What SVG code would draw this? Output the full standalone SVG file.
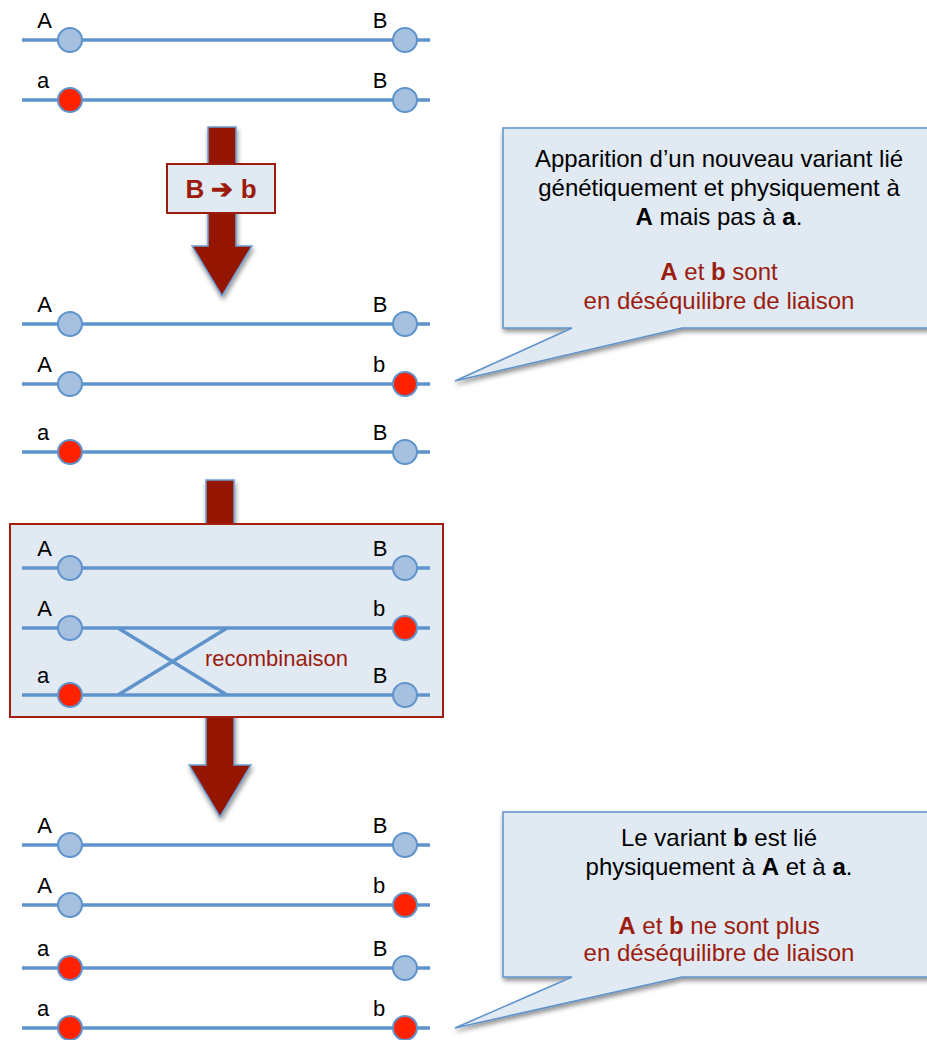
<svg xmlns="http://www.w3.org/2000/svg" width="927" height="1040" viewBox="0 0 927 1040">
  <defs>
    <style>
      .chr { stroke: #5f93cb; stroke-width: 3.5; fill: none; }
      .lb { fill: #a6c0e0; stroke: #5f93cb; stroke-width: 2; }
      .rd { fill: #ff2200; stroke: #5f93cb; stroke-width: 2; }
      .lab { font-family: "Liberation Sans", Arial, sans-serif; font-size: 22px; fill: #000; text-anchor: middle; }
      .arrow { fill: #951500; stroke: #6d9fd3; stroke-width: 1.5; }
      .call { fill: #e1e9f3; stroke: #5f93cb; stroke-width: 1.5; }
      .ct { font-family: "Liberation Sans", Arial, sans-serif; font-size: 24px; fill: #000; text-anchor: middle; }
      .red { fill: #9b1c0e; }
      .b { font-weight: bold; }
      .mut { font-size: 26px; }
      .rec { font-size: 22px; text-anchor: start; }
    </style>
    <filter id="shadow" x="-20%" y="-20%" width="140%" height="140%">
      <feGaussianBlur in="SourceAlpha" stdDeviation="2.5"/>
      <feOffset dx="1" dy="3" result="o"/>
      <feComponentTransfer><feFuncA type="linear" slope="0.45"/></feComponentTransfer>
      <feMerge><feMergeNode/><feMergeNode in="SourceGraphic"/></feMerge>
    </filter>
  </defs>

  <rect width="927" height="1040" fill="#fff"/>

  <!-- arrows between stages -->
  <g id="connectors">
    <path class="arrow" filter="url(#shadow)" d="M208,127 H236 V246 H252 L222,296 L192,246 H208 Z"/>
    <path class="arrow" filter="url(#shadow)" d="M206,480 H234 V765 H251 L220,817 L189,765 H206 Z"/>
  </g>

  <!-- mutation label on first arrow -->
  <g id="mutation">
    <rect x="167" y="164" width="108" height="49" fill="#e1e9f3" stroke="#9b1c0e" stroke-width="2"/>
    <text x="221" y="198" class="ct b red mut">B ➔ b</text>
  </g>

  <!-- stage 1 -->
  <g id="stage1">
    <line class="chr" x1="22" y1="40" x2="430" y2="40"/>
    <circle class="lb" cx="70" cy="40" r="12"/><circle class="lb" cx="405" cy="40" r="12"/>
    <text class="lab" x="44.5" y="28">A</text><text class="lab" x="380" y="28">B</text>
    <line class="chr" x1="22" y1="100" x2="430" y2="100"/>
    <circle class="rd" cx="70" cy="100" r="12"/><circle class="lb" cx="405" cy="100" r="12"/>
    <text class="lab" x="43" y="88">a</text><text class="lab" x="380" y="88">B</text>
  </g>

  <!-- stage 2 -->
  <g id="stage2">
    <line class="chr" x1="22" y1="324" x2="430" y2="324"/>
    <circle class="lb" cx="70" cy="324" r="12"/><circle class="lb" cx="405" cy="324" r="12"/>
    <text class="lab" x="44.5" y="312">A</text><text class="lab" x="380" y="312">B</text>
    <line class="chr" x1="22" y1="384" x2="430" y2="384"/>
    <circle class="lb" cx="70" cy="384" r="12"/><circle class="rd" cx="405" cy="384" r="12"/>
    <text class="lab" x="44.5" y="372">A</text><text class="lab" x="379" y="372">b</text>
    <line class="chr" x1="22" y1="452" x2="430" y2="452"/>
    <circle class="rd" cx="70" cy="452" r="12"/><circle class="lb" cx="405" cy="452" r="12"/>
    <text class="lab" x="43" y="440">a</text><text class="lab" x="380" y="440">B</text>
  </g>

  <!-- recombination box -->
  <g id="recombination">
    <rect x="10" y="524" width="433" height="193" fill="#e1e9f3" stroke="#a31e10" stroke-width="2"/>
    <line class="chr" x1="22" y1="568" x2="430" y2="568"/>
    <circle class="lb" cx="70" cy="568" r="12"/><circle class="lb" cx="405" cy="568" r="12"/>
    <text class="lab" x="44.5" y="556">A</text><text class="lab" x="380" y="556">B</text>
    <line class="chr" x1="22" y1="628" x2="430" y2="628"/>
    <line class="chr" x1="22" y1="695" x2="430" y2="695"/>
    <line class="chr" x1="118" y1="628" x2="227" y2="695"/>
    <line class="chr" x1="118" y1="695" x2="227" y2="628"/>
    <circle class="lb" cx="70" cy="628" r="12"/><circle class="rd" cx="405" cy="628" r="12"/>
    <text class="lab" x="44.5" y="616">A</text><text class="lab" x="379" y="616">b</text>
    <circle class="rd" cx="70" cy="695" r="12"/><circle class="lb" cx="405" cy="695" r="12"/>
    <text class="lab" x="43" y="683">a</text><text class="lab" x="380" y="683">B</text>
    <text class="ct red rec" x="205" y="666">recombinaison</text>
  </g>

  <!-- stage 3 -->
  <g id="stage3">
    <line class="chr" x1="22" y1="845" x2="430" y2="845"/>
    <circle class="lb" cx="70" cy="845" r="12"/><circle class="lb" cx="405" cy="845" r="12"/>
    <text class="lab" x="44.5" y="833">A</text><text class="lab" x="380" y="833">B</text>
    <line class="chr" x1="22" y1="905" x2="430" y2="905"/>
    <circle class="lb" cx="70" cy="905" r="12"/><circle class="rd" cx="405" cy="905" r="12"/>
    <text class="lab" x="44.5" y="893">A</text><text class="lab" x="379" y="893">b</text>
    <line class="chr" x1="22" y1="968" x2="430" y2="968"/>
    <circle class="rd" cx="70" cy="968" r="12"/><circle class="lb" cx="405" cy="968" r="12"/>
    <text class="lab" x="43" y="956">a</text><text class="lab" x="380" y="956">B</text>
    <line class="chr" x1="22" y1="1028" x2="430" y2="1028"/>
    <circle class="rd" cx="70" cy="1028" r="12"/><circle class="rd" cx="405" cy="1028" r="12"/>
    <text class="lab" x="43" y="1016">a</text><text class="lab" x="379" y="1016">b</text>
  </g>

  <!-- callout: new variant -->
  <g id="callout1">
    <path class="call" filter="url(#shadow)" d="M503,128 H935 V328 H682 L455,381 L572,328 H503 Z"/>
    <text class="ct" x="719" y="167">Apparition d’un nouveau variant lié</text>
    <text class="ct" x="719" y="196">génétiquement et physiquement à</text>
    <text class="ct" x="719" y="225"><tspan class="b">A</tspan> mais pas à <tspan class="b">a</tspan>.</text>
    <text class="ct red" x="719" y="280"><tspan class="b">A</tspan> et <tspan class="b">b</tspan> sont</text>
    <text class="ct red" x="719" y="309">en déséquilibre de liaison</text>
  </g>

  <!-- callout: after recombination -->
  <g id="callout2">
    <path class="call" filter="url(#shadow)" d="M503,812 H935 V977 H682 L455,1028 L572,977 H503 Z"/>
    <text class="ct" x="719" y="846">Le variant <tspan class="b">b</tspan> est lié</text>
    <text class="ct" x="719" y="875">physiquement à <tspan class="b">A</tspan> et à <tspan class="b">a</tspan>.</text>
    <text class="ct red" x="719" y="934"><tspan class="b">A</tspan> et <tspan class="b">b</tspan> ne sont plus</text>
    <text class="ct red" x="719" y="961">en déséquilibre de liaison</text>
  </g>
</svg>
